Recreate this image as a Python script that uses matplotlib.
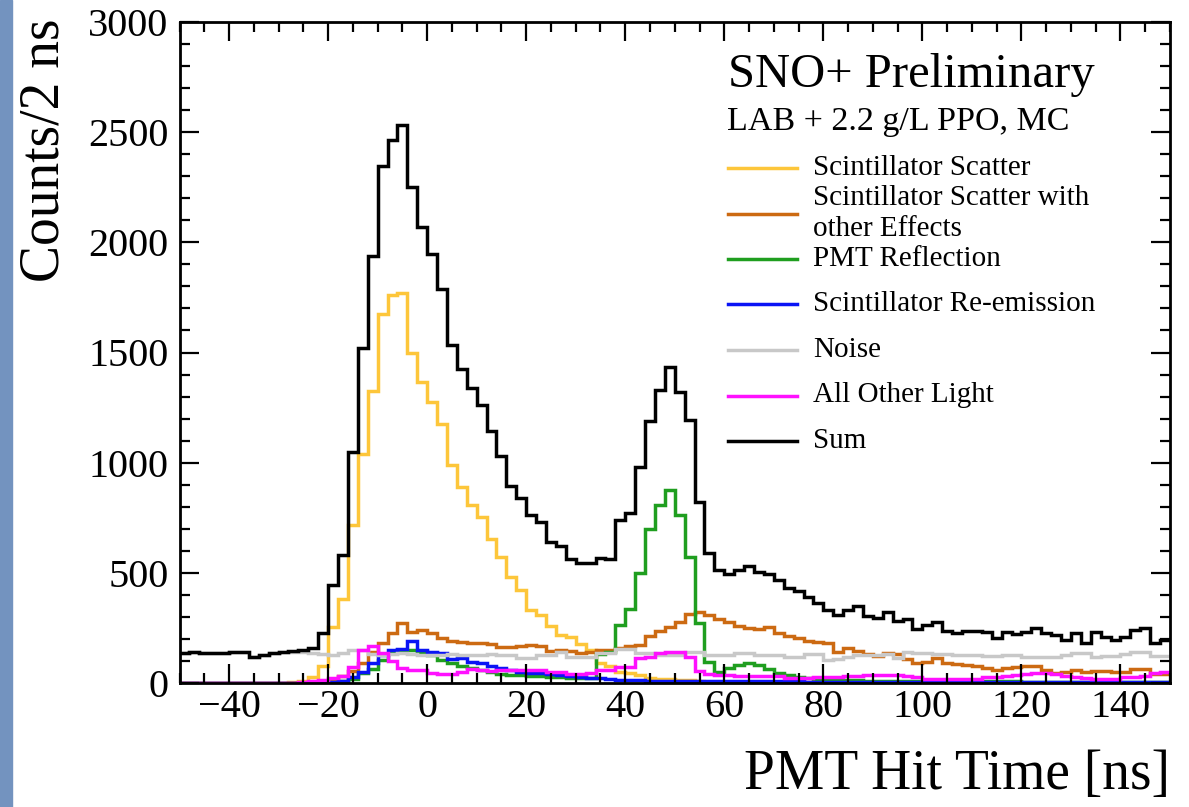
import numpy as np
import matplotlib
matplotlib.use("Agg")
import matplotlib.pyplot as plt
from matplotlib.lines import Line2D
from matplotlib.patches import Rectangle
from matplotlib.ticker import MultipleLocator

plt.rcParams['font.family'] = ['Liberation Serif', 'DejaVu Serif']

# PMT hit time, 2 ns bins from -50 to 150 ns
bin_edges = np.arange(-50, 152, 2)

scint_scatter = [
    0, 0, 0, 0, 0, 0, 0, 0, 0, 0,
    0, 3, 10, 25, 75, 252, 379, 718, 1040, 1327,
    1675, 1759, 1771, 1498, 1366, 1275, 1174, 988, 889, 806,
    753, 652, 570, 483, 423, 332, 309, 259, 218, 208,
    176, 150, 89, 77, 52, 47, 36, 21, 20, 18,
    15, 12, 8, 5, 3, 2, 2, 1, 1, 1,
    0, 0, 0, 0, 0, 0, 0, 0, 0, 0,
    0, 0, 0, 0, 0, 0, 0, 0, 0, 0,
    0, 0, 0, 0, 0, 0, 0, 0, 0, 0,
    0, 0, 0, 0, 0, 0, 0, 0, 0, 0,
]
scatter_other = [
    0, 0, 0, 0, 0, 0, 0, 0, 0, 0,
    0, 0, 0, 0, 3, 10, 30, 55, 90, 142,
    180, 226, 274, 233, 241, 226, 205, 190, 188, 180,
    183, 178, 165, 162, 168, 173, 168, 145, 150, 145,
    135, 140, 150, 150, 158, 168, 172, 214, 234, 255,
    277, 314, 320, 308, 292, 277, 260, 250, 244, 252,
    226, 214, 203, 192, 188, 180, 142, 160, 147, 130,
    123, 135, 133, 108, 89, 97, 112, 89, 86, 82,
    79, 67, 59, 67, 74, 79, 79, 59, 44, 52,
    59, 48, 56, 56, 52, 52, 62, 62, 41, 41,
]
pmt_reflection = [
    0, 0, 0, 0, 0, 0, 0, 0, 0, 0,
    0, 0, 0, 0, 0, 3, 10, 20, 44, 65,
    103, 136, 148, 148, 140, 126, 103, 92, 75, 66,
    60, 49, 42, 38, 35, 33, 30, 28, 26, 24,
    22, 21, 130, 142, 264, 335, 498, 698, 809, 877,
    764, 574, 271, 97, 52, 67, 82, 89, 82, 62,
    44, 36, 25, 21, 18, 16, 14, 12, 12, 11,
    11, 10, 10, 10, 9, 9, 9, 8, 8, 8,
    8, 7, 7, 7, 7, 6, 6, 6, 6, 6,
    5, 5, 5, 5, 5, 5, 4, 4, 4, 4,
]
reemission = [
    0, 0, 0, 0, 0, 0, 0, 0, 0, 0,
    0, 0, 0, 0, 0, 3, 10, 25, 52, 89,
    127, 150, 153, 190, 150, 142, 135, 110, 112, 96,
    92, 78, 70, 60, 52, 47, 44, 40, 36, 32,
    28, 24, 21, 18, 15, 13, 12, 11, 10, 10,
    9, 9, 9, 8, 8, 8, 8, 7, 7, 7,
    7, 7, 7, 6, 6, 6, 6, 6, 6, 6,
    6, 6, 5, 5, 5, 5, 5, 5, 5, 5,
    5, 5, 5, 4, 4, 4, 4, 4, 4, 4,
    4, 4, 4, 4, 4, 4, 3, 3, 3, 3,
]
noise = [
    135, 140, 138, 138, 138, 142, 140, 120, 128, 135,
    141, 140, 142, 135, 130, 128, 135, 150, 148, 130,
    128, 130, 135, 130, 127, 128, 125, 130, 127, 128,
    125, 130, 127, 128, 112, 112, 127, 127, 142, 117,
    117, 117, 138, 138, 153, 153, 135, 135, 127, 127,
    127, 142, 142, 127, 127, 127, 135, 135, 127, 127,
    125, 117, 117, 130, 130, 105, 110, 120, 127, 127,
    127, 132, 112, 142, 138, 138, 132, 132, 127, 127,
    127, 123, 123, 127, 127, 120, 120, 117, 117, 127,
    138, 138, 120, 123, 123, 132, 140, 140, 123, 123,
]
other_light = [
    0, 0, 0, 0, 0, 0, 0, 0, 0, 0,
    0, 0, 3, 8, 15, 21, 32, 74, 150, 168,
    135, 101, 67, 59, 59, 47, 40, 40, 52, 62,
    60, 55, 59, 59, 59, 59, 59, 52, 52, 41,
    41, 47, 59, 59, 74, 74, 114, 120, 138, 141,
    141, 120, 56, 41, 36, 36, 32, 32, 32, 32,
    32, 22, 21, 22, 25, 25, 28, 30, 34, 36,
    36, 36, 35, 30, 25, 20, 17, 17, 17, 17,
    20, 25, 28, 30, 35, 40, 44, 44, 40, 34,
    28, 22, 17, 17, 20, 25, 28, 33, 44, 50,
]
total = [
    135, 140, 138, 138, 138, 142, 140, 120, 128, 135,
    141, 145, 152, 160, 228, 445, 583, 1050, 1520, 1937,
    2346, 2463, 2533, 2250, 2070, 1948, 1788, 1536, 1423, 1341,
    1263, 1145, 1029, 895, 840, 764, 729, 642, 620, 562,
    544, 544, 567, 562, 741, 771, 980, 1191, 1332, 1435,
    1320, 1195, 821, 589, 514, 495, 511, 532, 506, 495,
    468, 430, 418, 392, 362, 330, 310, 332, 350, 302,
    294, 320, 283, 289, 244, 264, 279, 238, 226, 238,
    238, 233, 203, 230, 223, 233, 248, 226, 218, 195,
    229, 183, 230, 208, 195, 210, 241, 248, 180, 195,
]

labels = ["Scintillator Scatter", "Scintillator Scatter with\nother Effects",
          "PMT Reflection", "Scintillator Re-emission", "Noise",
          "All Other Light", "Sum"]
colors = ["#fdc63a", "#cc6a12", "#1f9e1f", "#0a14f5", "#c8c8c8", "#ff10ff", "#000000"]
series = [scint_scatter, scatter_other, pmt_reflection, reemission, noise,
          other_light, total]

W, H = 1189, 807
fig = plt.figure(figsize=(W / 100, H / 100), dpi=100)
fig.patches.append(Rectangle((0, 0), 12 / W, 1, transform=fig.transFigure,
                             color="#7393bf", zorder=0))
ax = fig.add_axes([179.5 / W, 1 - 683 / H, (1170 - 179.5) / W, (683 - 22) / H])

for vals, col in zip(series, colors):
    ax.stairs(vals, bin_edges, baseline=None, color=col, lw=2.5)

ax.set_xlim(-50, 150)
ax.set_ylim(0, 3000)
ax.xaxis.set_major_locator(MultipleLocator(20))
ax.xaxis.set_minor_locator(MultipleLocator(5))
ax.yaxis.set_major_locator(MultipleLocator(500))
ax.yaxis.set_minor_locator(MultipleLocator(100))
ax.tick_params(which='both', direction='in', top=True, right=True, labelsize=29, width=1.6)
ax.tick_params(which='major', length=14)
ax.tick_params(which='minor', length=7)
ax.tick_params(axis='x', pad=4)
ax.tick_params(axis='y', pad=8)
for sp in ax.spines.values():
    sp.set_linewidth(2.0)

fig.text(45 / W, 1 - 18 / H, "Counts/2 ns", rotation=90, ha='center', va='top', fontsize=40)
fig.text(1170 / W, 1 - 775 / H, "PMT Hit Time [ns]", ha='right', va='center', fontsize=40)

# legend drawn by hand, ROOT style
fig.text(728 / W, 1 - 75 / H, "SNO+ Preliminary", ha='left', va='center', fontsize=35)
fig.text(727 / W, 1 - 122 / H, "LAB + 2.2 g/L PPO, MC", ha='left', va='center', fontsize=24.5)
for k, (lab, col) in enumerate(zip(labels, colors)):
    yy = 1 - (168 + 45.5 * k) / H
    fig.add_artist(Line2D([728 / W, 797 / W], [yy, yy], color=col, lw=2.5,
                          transform=fig.transFigure))
    fig.text(813 / W, yy, lab, ha='left', va='center', fontsize=21, linespacing=1.25)

fig.savefig("out.png", dpi=100)
